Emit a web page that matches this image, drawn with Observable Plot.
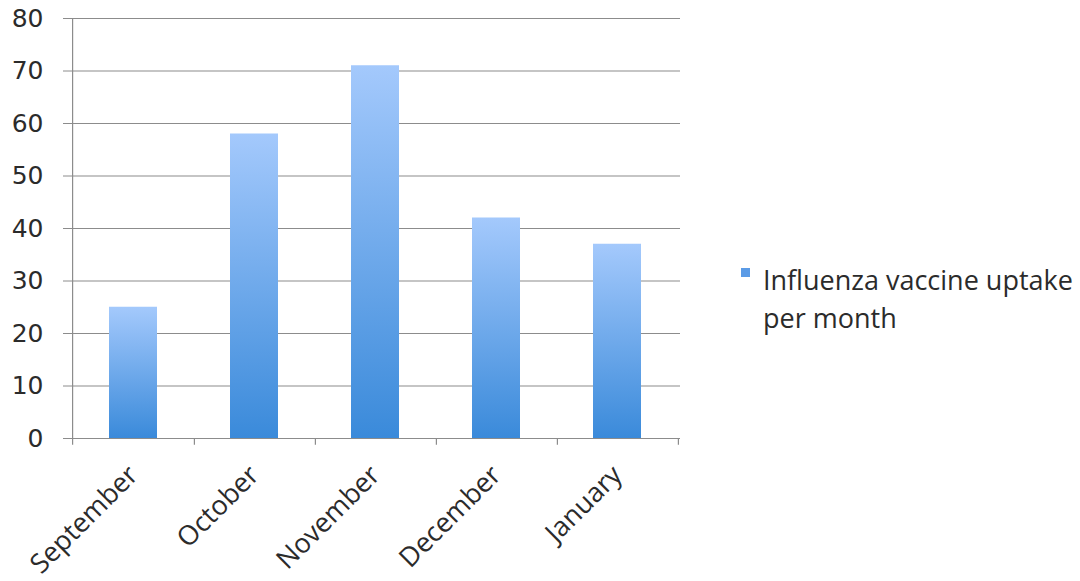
<!DOCTYPE html>
<html><head><meta charset="utf-8">
<script src="https://cdn.jsdelivr.net/npm/d3@7"></script>
<script src="https://cdn.jsdelivr.net/npm/@observablehq/plot@0.6"></script>
<style>
body{margin:0;background:#fff;}
#chart{position:relative;width:1080px;height:581px;overflow:hidden;}
#legend{position:absolute;left:741px;top:261px;font-family:"Open Sans",sans-serif;font-size:27px;color:#2b2b2b;line-height:38px;}
#legend .sw{position:absolute;left:0;top:7px;width:9px;height:9px;background:#5b9be6;}
#legend .tx{position:absolute;left:22px;top:0;white-space:nowrap;}
</style></head><body>
<div id="chart"><div id="legend"></div></div>
<script>
const months = ["September","October","November","December","January"];
const uptake = [25,58,71,42,37];
const yTicks = [0,10,20,30,40,50,60,70,80];
const legendLines = ["Influenza vaccine uptake","per month"];

const data = months.map((m,i)=>({month:m, value:uptake[i]}));
const W = 1080, H = 581, mL = 71, mR = 400, mT = 18, mB = 143;
const step = (W - mL - mR) / months.length;

const plot = Plot.plot({
  width: W, height: H,
  marginLeft: mL, marginRight: mR, marginTop: mT, marginBottom: mB,
  style: {fontFamily: "Open Sans", color: "#2b2b2b", background: "#fff"},
  x: {domain: months, paddingInner: 0.6, paddingOuter: 0.3, label: null},
  y: {domain: [0,80], label: null},
  marks: [
    Plot.ruleY(yTicks, {stroke: "#8c8c8c", strokeWidth: 1.2, strokeOpacity: 1}),
    Plot.barY(data, {x: "month", y: "value", fill: "url(#barGrad)"}),
    Plot.ruleX([months[0]], {dx: -step/2, y1: -1.3, y2: 80, stroke: "#8c8c8c", strokeWidth: 1.2}),
    Plot.ruleX(months, {dx: step/2, y1: -1.3, y2: 0, stroke: "#8c8c8c", strokeWidth: 1.2}),
    Plot.axisY(yTicks, {tickSize: 8, tickPadding: 20, fontSize: 25, fontFamily: "DejaVu Sans", stroke: "#8c8c8c", fill: "#2b2b2b", label: null}),
    Plot.axisX({tickSize: 0, tickRotate: -45, tickPadding: 32, fontSize: 27, fontFamily: "Open Sans", fill: "#2b2b2b", label: null})
  ]
});
const svg = d3.select(plot);
const grad = svg.insert("defs", ":first-child").append("linearGradient")
  .attr("id", "barGrad").attr("x1", 0).attr("y1", 0).attr("x2", 0).attr("y2", 1);
grad.append("stop").attr("offset", "0%").attr("stop-color", "#a4c9fc");
grad.append("stop").attr("offset", "100%").attr("stop-color", "#3a8ada");
document.getElementById("chart").prepend(plot);

const lg = d3.select("#legend");
lg.append("div").attr("class", "sw");
lg.append("div").attr("class", "tx").html(legendLines.join("<br>"));
</script>
</body></html>
